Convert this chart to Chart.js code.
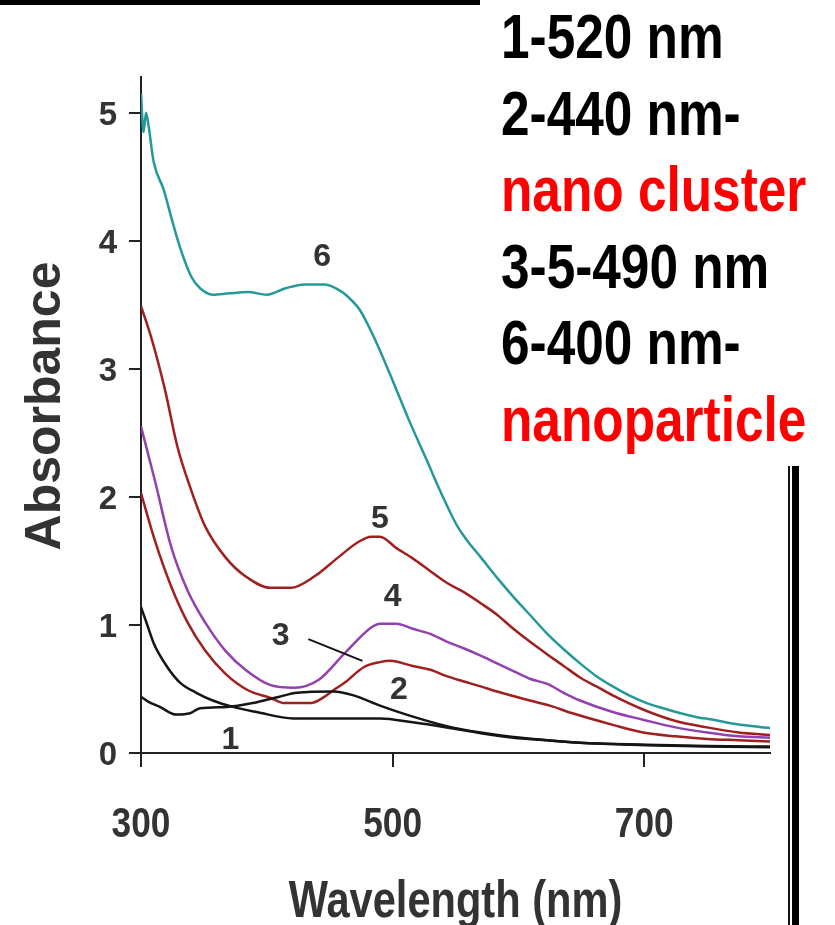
<!DOCTYPE html>
<html>
<head>
<meta charset="utf-8">
<script src="https://cdn.jsdelivr.net/npm/chart.js@4.4.1/dist/chart.umd.min.js"></script>
<style>
    html, body { margin: 0; padding: 0; background: #fff; }
    #wrap { position: relative; width: 835px; height: 925px; overflow: hidden; }
    #uvChart { position: absolute; left: 0; top: 0; }
    .topBar { position: absolute; left: 0; top: 0; width: 480px; height: 5px; background: #000; }
    .thinRule { position: absolute; left: 788px; top: 466px; width: 2px; height: 459px; background: #111; }
    .thickRule { position: absolute; left: 792px; top: 466px; width: 7px; height: 459px; background: #000; }
    #notes { position: absolute; left: 501px; top: -2px; font-family: "Liberation Sans", Arial, sans-serif;
             font-weight: bold; font-size: 63px; line-height: 76.6px; color: #000; white-space: nowrap; }
    #notes div { transform: scaleX(0.815); transform-origin: left center; }
    #notes .red { color: #ff0000; }
</style>
</head>
<body>
<div id="wrap">
    <canvas id="uvChart" width="835" height="925"></canvas>
    <div class="topBar"></div>
    <div class="thinRule"></div>
    <div class="thickRule"></div>
    <div id="notes">
        <div>1-520 nm</div>
        <div>2-440 nm-</div>
        <div class="red">nano cluster</div>
        <div>3-5-490 nm</div>
        <div>6-400 nm-</div>
        <div class="red">nanoparticle</div>
    </div>
</div>
<script>
// axis ticks
const xTicks = [300, 500, 700];
const yTicks = [0, 1, 2, 3, 4, 5];

// curve 1 (black, decaying)
const wl1 = [300, 305, 310, 321, 331, 344, 357, 373, 392, 421, 450, 490, 516, 543, 570, 596, 623, 649, 675, 702, 750, 800];
const abs1 = [1.14, 1.0, 0.86, 0.67, 0.55, 0.47, 0.41, 0.36, 0.32, 0.27, 0.27, 0.27, 0.24, 0.20, 0.155, 0.12, 0.10, 0.08, 0.07, 0.06, 0.05, 0.045];

// curve 2 (black, small bump)
const wl2 = [300, 306, 315, 328, 339, 347, 368, 389, 410, 424, 453, 469, 490, 511, 543, 570, 596, 623, 649, 702, 750, 800];
const abs2 = [0.44, 0.40, 0.36, 0.30, 0.31, 0.35, 0.36, 0.39, 0.44, 0.47, 0.48, 0.45, 0.37, 0.30, 0.21, 0.16, 0.125, 0.10, 0.08, 0.065, 0.055, 0.05];

// curve 3 (red, lower)
const wl3 = [300, 311, 324, 337, 351, 367, 385, 403, 414, 435, 446, 453, 462, 477, 490, 498, 516, 530, 543, 556, 570, 583, 609, 625, 643, 675, 699, 725, 750, 775, 800];
const abs3 = [2.03, 1.66, 1.30, 1.02, 0.80, 0.62, 0.49, 0.43, 0.39, 0.39, 0.44, 0.49, 0.55, 0.67, 0.71, 0.72, 0.68, 0.65, 0.60, 0.56, 0.52, 0.48, 0.41, 0.37, 0.31, 0.22, 0.16, 0.13, 0.11, 0.10, 0.09];

// curve 4 (purple)
const wl4 = [300, 311, 324, 337, 351, 367, 383, 403, 422, 441, 462, 483, 490, 503, 516, 530, 543, 556, 570, 583, 596, 609, 623, 636, 649, 675, 699, 725, 750, 775, 800];
const abs4 = [2.55, 2.13, 1.61, 1.27, 1.02, 0.80, 0.65, 0.53, 0.51, 0.57, 0.78, 0.98, 1.01, 1.01, 0.97, 0.93, 0.87, 0.82, 0.76, 0.70, 0.64, 0.58, 0.54, 0.47, 0.41, 0.32, 0.26, 0.20, 0.16, 0.13, 0.12];

// curve 5 (red, upper)
const wl5 = [300, 308, 319, 329, 340, 351, 367, 383, 403, 419, 438, 457, 473, 483, 490, 503, 516, 530, 543, 556, 570, 583, 596, 609, 623, 636, 649, 662, 675, 699, 725, 750, 775, 800];
const abs5 = [3.49, 3.25, 2.84, 2.39, 2.05, 1.77, 1.53, 1.38, 1.29, 1.29, 1.38, 1.53, 1.65, 1.69, 1.69, 1.60, 1.52, 1.42, 1.33, 1.26, 1.17, 1.08, 0.97, 0.87, 0.77, 0.68, 0.59, 0.52, 0.45, 0.34, 0.25, 0.20, 0.16, 0.14];

// curve 6 (teal)
const wl6 = [300, 302, 304, 306, 310, 318, 325, 331, 340, 347, 357, 370, 385, 400, 415, 430, 446, 460, 467, 474, 486, 500, 513, 527, 540, 551, 560, 570, 583, 596, 610, 623, 636, 649, 662, 675, 688, 702, 715, 729, 742, 755, 770, 785, 800];
const abs6 = [5.15, 4.85, 5.0, 4.9, 4.62, 4.4, 4.15, 3.95, 3.72, 3.63, 3.58, 3.59, 3.6, 3.58, 3.63, 3.66, 3.66, 3.6, 3.54, 3.46, 3.23, 2.91, 2.6, 2.29, 2.0, 1.78, 1.65, 1.53, 1.37, 1.22, 1.07, 0.93, 0.81, 0.70, 0.60, 0.52, 0.45, 0.39, 0.35, 0.31, 0.28, 0.26, 0.23, 0.21, 0.195];

// curve numbers written on the plot (data units)
const curveLabels = [
    { text: '6', x: 444, y: 3.87 },
    { text: '5', x: 490, y: 1.83 },
    { text: '4', x: 500, y: 1.22 },
    { text: '3', x: 411, y: 0.91 },
    { text: '2', x: 505, y: 0.49 },
    { text: '1', x: 371, y: 0.10 }
];
const leader3 = { x1: 433, y1: 0.89, x2: 476, y2: 0.72 };

const xTitle = 'Wavelength (nm)';
const yTitle = 'Absorbance';

const axisColor = '#222';
const textColor = '#333';
const fontFam = '"Liberation Sans", Arial, sans-serif';

function toPoints(xs, ys) {
    return xs.map((x, i) => ({ x: x, y: ys[i] }));
}

function makeSet(label, xs, ys, color) {
    return {
        label: label,
        data: toPoints(xs, ys),
        borderColor: color,
        borderWidth: 2.5,
        pointRadius: 0,
        tension: 0.4,
        cubicInterpolationMode: 'monotone',
        fill: false
    };
}

// text drawn by hand so it can be squeezed like the narrow font of the original
function squeezedText(ctx, text, x, y, sx) {
    ctx.save();
    ctx.translate(x, y);
    ctx.scale(sx, 1);
    ctx.fillText(text, 0, 0);
    ctx.restore();
}

const axisText = {
    id: 'axisText',
    afterDraw(chart) {
        const ctx = chart.ctx;
        const xs = chart.scales.x;
        const ys = chart.scales.y;
        const area = chart.chartArea;
        ctx.save();
        ctx.fillStyle = textColor;
        ctx.textBaseline = 'alphabetic';

        // x tick labels
        ctx.font = 'bold 42px ' + fontFam;
        ctx.textAlign = 'center';
        xs.ticks.forEach(t => {
            squeezedText(ctx, String(t.value), xs.getPixelForValue(t.value), area.bottom + 84, 0.84);
        });

        // y tick labels
        ctx.font = 'bold 33px ' + fontFam;
        ctx.textAlign = 'right';
        ys.ticks.forEach(t => {
            ctx.fillText(String(t.value), area.left - 24, ys.getPixelForValue(t.value) + 12);
        });

        // x title
        ctx.font = 'bold 52px ' + fontFam;
        ctx.textAlign = 'center';
        squeezedText(ctx, xTitle, (area.left + area.right) / 2, 917, 0.8);

        // y title
        ctx.font = 'bold 50px ' + fontFam;
        ctx.translate(60, 406);
        ctx.rotate(-Math.PI / 2);
        ctx.textAlign = 'center';
        ctx.fillText(yTitle, 0, 0);
        ctx.restore();
    },
    afterDatasetsDraw(chart) {
        const ctx = chart.ctx;
        const xs = chart.scales.x;
        const ys = chart.scales.y;
        ctx.save();
        ctx.fillStyle = textColor;
        ctx.font = 'bold 32px ' + fontFam;
        ctx.textAlign = 'center';
        ctx.textBaseline = 'middle';
        curveLabels.forEach(l => {
            ctx.fillText(l.text, xs.getPixelForValue(l.x), ys.getPixelForValue(l.y));
        });
        ctx.strokeStyle = '#111';
        ctx.lineWidth = 2;
        ctx.beginPath();
        ctx.moveTo(xs.getPixelForValue(leader3.x1), ys.getPixelForValue(leader3.y1));
        ctx.lineTo(xs.getPixelForValue(leader3.x2), ys.getPixelForValue(leader3.y2));
        ctx.stroke();
        ctx.restore();
    }
};

const ctx = document.getElementById('uvChart').getContext('2d');
const uvChart = new Chart(ctx, {
    type: 'line',
    data: {
        datasets: [
            makeSet('1', wl1, abs1, '#151515'),
            makeSet('2', wl2, abs2, '#151515'),
            makeSet('3', wl3, abs3, '#a01f1f'),
            makeSet('4', wl4, abs4, '#9141b0'),
            makeSet('5', wl5, abs5, '#a01f1f'),
            makeSet('6', wl6, abs6, '#25999a')
        ]
    },
    options: {
        responsive: false,
        animation: false,
        devicePixelRatio: 1,
        layout: { padding: { top: 77, right: 65, left: 0, bottom: 0 } },
        plugins: {
            legend: { display: false },
            tooltip: { enabled: false }
        },
        scales: {
            x: {
                type: 'linear',
                min: 300,
                max: 800,
                afterFit: s => { s.height = 172; },
                afterBuildTicks: s => { s.ticks = xTicks.map(v => ({ value: v })); },
                grid: { drawOnChartArea: false, drawTicks: true, tickLength: 14, color: axisColor, lineWidth: 2 },
                border: { display: true, color: axisColor, width: 2 },
                ticks: { display: false }
            },
            y: {
                type: 'linear',
                min: 0,
                max: 5.28,
                afterFit: s => { s.width = 141; },
                afterBuildTicks: s => { s.ticks = yTicks.map(v => ({ value: v })); },
                grid: { drawOnChartArea: false, drawTicks: true, tickLength: 12, color: axisColor, lineWidth: 2 },
                border: { display: true, color: axisColor, width: 2 },
                ticks: { display: false }
            }
        }
    },
    plugins: [axisText]
});
</script>
</body>
</html>
